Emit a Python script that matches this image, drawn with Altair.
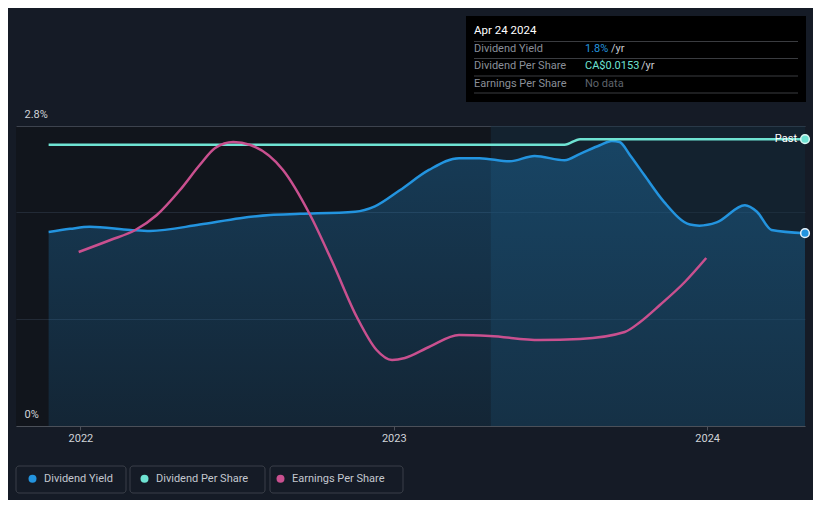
import altair as alt
import pandas as pd

# ---------------- data ----------------
dy_dates = ["2021-11-25", "2021-12-20", "2022-01-12", "2022-02-28", "2022-03-23", "2022-05-20",
            "2022-07-06", "2022-08-10", "2022-09-14", "2022-11-17", "2022-12-10", "2023-01-08",
            "2023-02-11", "2023-03-18", "2023-04-11", "2023-05-16", "2023-06-14", "2023-07-19",
            "2023-08-06", "2023-08-29", "2023-09-12", "2023-09-21", "2023-10-03", "2023-10-20",
            "2023-11-12", "2023-12-12", "2023-12-23", "2024-01-12", "2024-02-14", "2024-02-28",
            "2024-03-16", "2024-04-24"]
dy_values = [1.81, 1.84, 1.86, 1.83, 1.82, 1.88, 1.94, 1.97, 1.98, 2.00, 2.05, 2.20,
             2.39, 2.50, 2.50, 2.47, 2.52, 2.48, 2.54, 2.62, 2.66, 2.65, 2.53, 2.34,
             2.09, 1.88, 1.87, 1.90, 2.06, 2.00, 1.83, 1.80]

dps_dates = ["2021-11-25", "2023-07-19", "2023-08-06", "2024-04-24"]
dps_values = [0.0150, 0.0150, 0.0153, 0.0153]

eps_dates = ["2021-12-30", "2022-02-05", "2022-03-06", "2022-03-31", "2022-04-27", "2022-05-20",
             "2022-06-07", "2022-06-28", "2022-07-18", "2022-08-25", "2022-09-25", "2022-10-22",
             "2022-11-19", "2022-12-12", "2022-12-30", "2023-01-14", "2023-02-11", "2023-03-18",
             "2023-04-23", "2023-06-20", "2023-08-06", "2023-09-27", "2023-10-15", "2023-11-07",
             "2023-12-06", "2023-12-31"]
eps_values = [0.0174, 0.0186, 0.0196, 0.0211, 0.0236, 0.0261,
              0.0278, 0.0284, 0.0281, 0.0256, 0.0212, 0.0163,
              0.0109, 0.0076, 0.0066, 0.0068, 0.0079, 0.0091,
              0.0090, 0.0086, 0.0087, 0.0094, 0.0104, 0.0121,
              0.0144, 0.0168]

series_names = ["Dividend Yield", "Dividend Per Share", "Earnings Per Share"]
series_colors = ["#2394df", "#6fe3d3", "#c9508f"]

year_ticks = [2022, 2023, 2024]
y_ticks = [0, 1, 2, 2.8]
past_start = ["2023-04-24"]
past_end = ["2024-04-24"]

tooltip_date = "Apr 24 2024"
tooltip_labels = ["Dividend Yield", "Dividend Per Share", "Earnings Per Share"]
tooltip_values = ["1.8%", "CA$0.0153", "No data"]
tooltip_suffix = ["/yr", "/yr", ""]
tooltip_value_colors = ["#2394df", "#6fe3d3", "#5f646c"]

# ---------------- frames ----------------
df_dy = pd.DataFrame({"date": dy_dates, "value": dy_values})
df_dps = pd.DataFrame({"date": dps_dates, "value": dps_values})
df_eps = pd.DataFrame({"date": eps_dates, "value": eps_values})
df_past = pd.DataFrame({"start": past_start, "end": past_end})
df_leg = pd.DataFrame({"series": series_names})
dummy = pd.DataFrame({"a": [0]})

W, H = 789, 300
FONT = "Roboto"

x_scale = alt.Scale(type="utc", domain=[alt.DateTime(year=2021, month=10, date=18, utc=True),
                                        alt.DateTime(year=2024, month=4, date=24, utc=True)])
x_axis = alt.Axis(values=[alt.DateTime(year=y, month=1, date=1, utc=True) for y in year_ticks],
                  format="%Y", grid=False, title=None, labelColor="#d0d3d8", labelFontSize=11,
                  labelFont=FONT, tickColor="#4b5059", tickSize=4, domainColor="#4b5059",
                  labelPadding=2)
X = alt.X("date:T", scale=x_scale, axis=x_axis)

dy_scale = alt.Scale(domain=[0, 2.8], nice=False, zero=True)
dps_scale = alt.Scale(domain=[0, 0.016], nice=False, zero=True)
eps_scale = alt.Scale(domain=[0, 0.03], nice=False, zero=True)

y_axis = alt.Axis(values=y_ticks, grid=True,
                  gridColor={"condition": {"test": "datum.value >= 2.8", "value": "#3d434e"},
                             "value": "#222a36"},
                  labelExpr="(datum.value == 0 || datum.value == 2.8) ? datum.value + '%' : ''",
                  domain=False, ticks=False, tickSize=0, labelAlign="left", labelBaseline="bottom",
                  labelPadding=-8, labelOffset=-7, labelColor="#d0d3d8", labelFontSize=11,
                  labelFont=FONT, title=None, labelBound=False, labelOverlap=False, labelFlush=False)

past = alt.Chart(df_past).mark_rect(color="#152f42", opacity=0.5).encode(
    x=alt.X("start:T", scale=x_scale, axis=x_axis), x2="end:T")

area = alt.Chart(df_dy).mark_area(
    interpolate="monotone",
    color=alt.Gradient(gradient="linear",
                       stops=[alt.GradientStop(color="rgba(35,148,223,0.13)", offset=0),
                              alt.GradientStop(color="rgba(35,148,223,0.30)", offset=1)],
                       x1=1, x2=1, y1=1, y2=0)
).encode(x=X, y=alt.Y("value:Q", scale=dy_scale, axis=y_axis))

line_dy = alt.Chart(df_dy).mark_line(interpolate="monotone", strokeWidth=2.5).encode(
    x=X, y=alt.Y("value:Q", scale=dy_scale, axis=None), color=alt.value(series_colors[0]))

line_dps = alt.Chart(df_dps).mark_line(interpolate="monotone", strokeWidth=2.5).encode(
    x=X, y=alt.Y("value:Q", scale=dps_scale, axis=None), color=alt.value(series_colors[1]))

line_eps = alt.Chart(df_eps).mark_line(interpolate="monotone", strokeWidth=2.5).encode(
    x=X, y=alt.Y("value:Q", scale=eps_scale, axis=None), color=alt.value(series_colors[2]))

end_dy = alt.Chart(df_dy.tail(1)).mark_point(filled=True, size=75, fill=series_colors[0],
                                             stroke="#e8f3fb", strokeWidth=1.5, opacity=1).encode(
    x=X, y=alt.Y("value:Q", scale=dy_scale, axis=None))
end_dps = alt.Chart(df_dps.tail(1)).mark_point(filled=True, size=75, fill=series_colors[1],
                                               stroke="#d9f7f3", strokeWidth=1.5, opacity=1).encode(
    x=X, y=alt.Y("value:Q", scale=dps_scale, axis=None))
past_label = alt.Chart(df_dps.tail(1)).mark_text(align="right", baseline="middle", dx=-8,
                                                 color="#ffffff", fontSize=11, font=FONT).encode(
    x=X, y=alt.Y("value:Q", scale=dps_scale, axis=None), text=alt.value("Past"))

legend_layer = alt.Chart(df_leg).mark_circle(size=64, opacity=1).encode(
    x=alt.value(-500), y=alt.value(-500),
    color=alt.Color("series:N", scale=alt.Scale(domain=series_names, range=series_colors),
                    legend=alt.Legend(orient="none", legendX=11, legendY=347, direction="horizontal",
                                      title=None, symbolType="circle", symbolSize=64,
                                      labelFontSize=11, labelFont=FONT, labelColor="#c3c7cf",
                                      columnPadding=26, labelOffset=6, padding=0,
                                      symbolStrokeWidth=0)))

# legend boxes
boxes = []
for bx0, bx1 in [(0, 110), (114, 249), (254, 387)]:
    boxes.append(alt.Chart(dummy).mark_rect(fill="transparent", stroke="#3a3f48", strokeWidth=1,
                                            cornerRadius=3).encode(
        x=alt.value(bx0), x2=alt.value(bx1), y=alt.value(340), y2=alt.value(367)))

# tooltip panel
tip = [alt.Chart(dummy).mark_rect(color="#000000").encode(
    x=alt.value(450), x2=alt.value(790), y=alt.value(-110), y2=alt.value(-24))]
tip.append(alt.Chart(dummy).mark_text(align="left", baseline="middle", color="#ffffff",
                                      fontSize=11.5, font=FONT).encode(
    x=alt.value(458), y=alt.value(-95), text=alt.value(tooltip_date)))
for yy in [-84.5, -67.5, -50, -33]:
    tip.append(alt.Chart(dummy).mark_rule(color="#3a3c40", strokeWidth=1).encode(
        x=alt.value(458), x2=alt.value(782), y=alt.value(yy)))
row_y = [-77, -60, -42]
suffix_x = [595, 625, 0]
for i in range(3):
    tip.append(alt.Chart(dummy).mark_text(align="left", baseline="middle", color="#8a8f98",
                                          fontSize=11, font=FONT).encode(
        x=alt.value(458), y=alt.value(row_y[i]), text=alt.value(tooltip_labels[i])))
    tip.append(alt.Chart(dummy).mark_text(align="left", baseline="middle",
                                          color=tooltip_value_colors[i],
                                          fontSize=11, font=FONT).encode(
        x=alt.value(569), y=alt.value(row_y[i]), text=alt.value(tooltip_values[i])))
    if tooltip_suffix[i]:
        tip.append(alt.Chart(dummy).mark_text(align="left", baseline="middle", color="#c8cad0",
                                              fontSize=11, font=FONT).encode(
            x=alt.value(suffix_x[i]), y=alt.value(row_y[i]), text=alt.value(tooltip_suffix[i])))

chart = alt.layer(
    past, area, line_dy, line_dps, line_eps, end_dy, end_dps, past_label, legend_layer,
    *boxes, *tip
).resolve_scale(y="independent").properties(
    width=W, height=H,
    autosize=alt.AutoSizeParams(type="none"),
    padding={"left": 8, "top": 118, "right": 8, "bottom": 74},
).configure(background="#151b26").configure_view(fill="#11151c", stroke=None)

chart.save("out.html", embed_options={"renderer": "svg", "actions": False})
